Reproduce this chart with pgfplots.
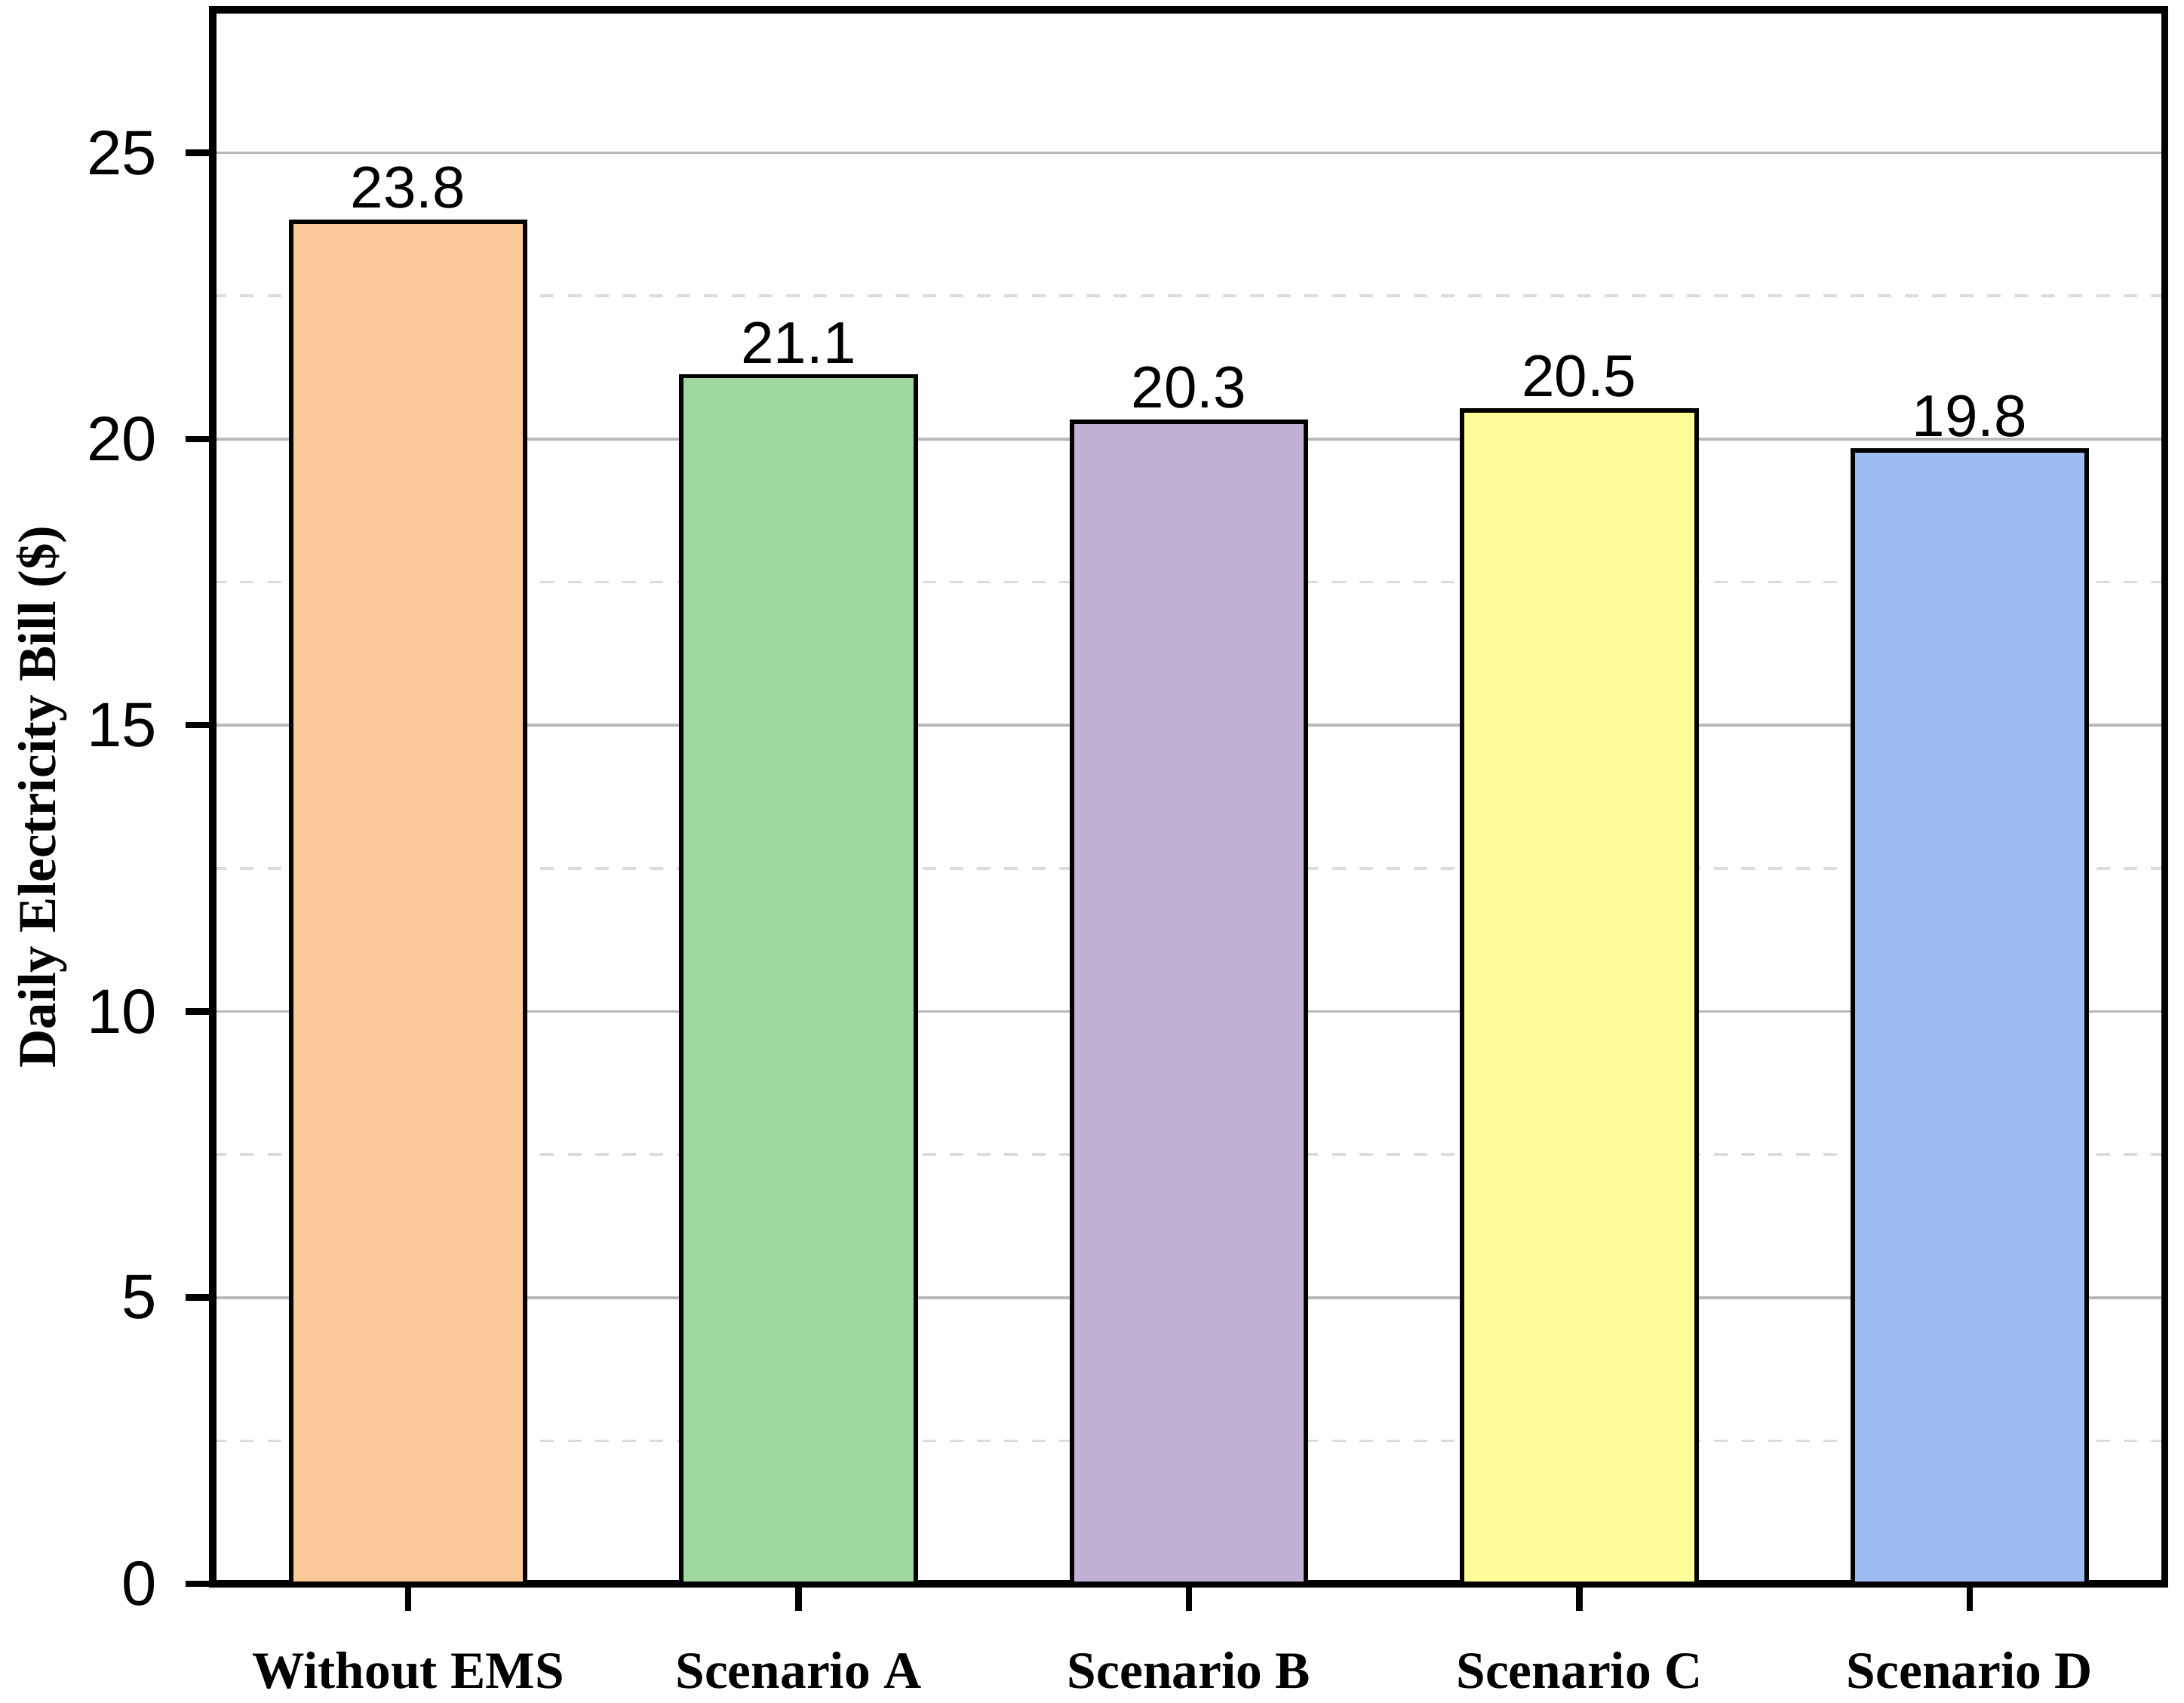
\documentclass[border=0pt]{standalone}
\usepackage{pgfplots}
\pgfplotsset{compat=1.18}
\usepackage{fontspec}
\setmainfont{Liberation Serif}
\newfontfamily\arial{Liberation Sans}
\definecolor{cA}{HTML}{FBC897}
\definecolor{cB}{HTML}{9FD89C}
\definecolor{cC}{HTML}{C2B1D6}
\definecolor{cD}{HTML}{FFFD9A}
\definecolor{cE}{HTML}{9DBBF2}
\definecolor{majgrid}{HTML}{B8B8B8}
\definecolor{mingrid}{HTML}{DCDCDC}
\pgfplotsset{
  layers/mylayers/.define layer set={axis background,axis grid,main,axis ticks,axis lines,axis tick labels,axis descriptions,axis foreground}{},
}
\begin{document}
\begin{tikzpicture}
\begin{axis}[
  set layers=mylayers,
  scale only axis, width=357.6pt, height=288.3pt,
  xmin=-0.5, xmax=4.5, ymin=0, ymax=27.5,
  xtick={0,1,2,3,4},
  xticklabels={Without EMS, Scenario A, Scenario B, Scenario C, Scenario D},
  ytick={0,5,10,15,20,25},
  minor ytick={2.5,7.5,12.5,17.5,22.5},
  ymajorgrids, yminorgrids,
  major grid style={color=majgrid, line width=0.5pt, solid},
  minor grid style={color=mingrid, line width=0.5pt, dash pattern=on 2.5pt off 2.5pt},
  axis line style={line width=1.3pt, black},
  major tick style={line width=1.2pt, black},
  minor tick length=0pt,
  major tick length=5pt,
  tick align=outside,
  xtick pos=bottom, ytick pos=left,
  /pgf/number format/assume math mode=true,
  yticklabel style={font=\arial\fontsize{11.5}{12}\selectfont, xshift=-1.7pt},
  xticklabel style={font=\bfseries\fontsize{9.6}{10}\selectfont, yshift=-4pt},
  ylabel={Daily Electricity Bill (\$)},
  ylabel style={font=\bfseries\fontsize{9.8}{10}\selectfont, at={(axis description cs:-0.0878,0.5)}, anchor=center},
  ybar, bar width=0.6,
  nodes near coords,
  every node near coord/.append style={font=\arial\fontsize{10.8}{11}\selectfont, /pgf/number format/fixed, /pgf/number format/precision=1, /pgf/number format/assume math mode=true, inner sep=2pt, black},
  every axis plot/.append style={draw=black, line width=0.8pt, bar shift=0pt},
]
\addplot[fill=cA] coordinates {(0,23.8)};
\addplot[fill=cB] coordinates {(1,21.1)};
\addplot[fill=cC] coordinates {(2,20.3)};
\addplot[fill=cD] coordinates {(3,20.5)};
\addplot[fill=cE] coordinates {(4,19.8)};
\end{axis}
\pgfresetboundingbox
\path (-39pt,-21.8pt) rectangle (361.1pt,290.1pt);
\end{tikzpicture}
\end{document}
